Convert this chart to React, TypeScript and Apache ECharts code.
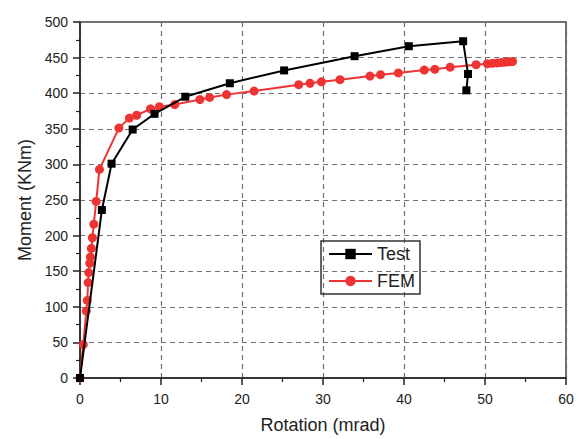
import React, { useEffect, useRef } from "react";
import * as echarts from "echarts";

const testRotation = [0, 2.7, 3.9, 6.5, 9.2, 13.0, 18.5, 25.2, 33.9, 40.6, 47.3, 47.9, 47.7];
const testMoment = [0, 236, 301, 349, 371, 395, 414, 432, 452, 466, 473, 427, 404];

const femRotation = [
  0, 0.4, 0.78, 0.9, 1.0, 1.07, 1.2, 1.28, 1.4, 1.53, 1.7, 2.0, 2.4, 4.8, 6.1, 7.0, 8.7, 9.8,
  11.7, 14.8, 16.0, 18.1, 21.5, 27.0, 28.4, 29.8, 32.1, 35.8, 37.1, 39.3, 42.5, 43.8, 45.7,
  48.9, 50.3, 50.9, 51.5, 52.0, 52.5, 53.0, 53.4,
];
const femMoment = [
  0, 47, 94, 109, 134, 148, 161, 170, 182, 197, 216, 248, 293, 351, 365, 369, 378, 381,
  384, 391, 394, 398, 403, 412, 414, 416, 419, 424, 426, 428.5, 432.5, 433.5, 436.5,
  440, 441.5, 442, 442.5, 443, 443.5, 444, 444.5,
];

const xTicks = { min: 0, max: 60, interval: 10 };
const yTicks = { min: 0, max: 500, interval: 50 };

const FONT = "'Liberation Sans', Arial, sans-serif";

export default function App() {
  const ref = useRef<HTMLDivElement>(null);
  useEffect(() => {
    if (!ref.current) return;
    const chart = echarts.init(ref.current, undefined, { renderer: "svg" });
    const pair = (xs: number[], ys: number[]) => xs.map((x, i) => [x, ys[i]]);
    const gridLine = { show: true, lineStyle: { color: "#707070", width: 1.2, type: [5, 4] as any } };
    chart.setOption({
      animation: false,
      backgroundColor: "#fff",
      textStyle: { fontFamily: FONT },
      grid: {
        left: 80,
        right: 13,
        top: 22,
        bottom: 52,
        show: true,
        borderColor: "#444",
        borderWidth: 1.5,
        backgroundColor: "transparent",
      },
      legend: {
        data: ["Test", "FEM"],
        orient: "vertical",
        left: 321,
        top: 241,
        borderColor: "#333",
        borderWidth: 1.5,
        padding: [4, 5, 4, 7],
        itemWidth: 43,
        itemHeight: 13,
        itemGap: 9,
        textStyle: { fontSize: 18, color: "#222", fontFamily: FONT },
      },
      xAxis: {
        type: "value",
        min: xTicks.min,
        max: xTicks.max,
        interval: xTicks.interval,
        name: "Rotation (mrad)",
        nameLocation: "middle",
        nameGap: 38,
        nameTextStyle: { fontSize: 18, color: "#222", fontFamily: FONT },
        axisLine: { show: true, lineStyle: { color: "#222", width: 1.5 } },
        axisTick: { show: true, length: 7, lineStyle: { color: "#222", width: 1.5 } },
        minorTick: { show: true, splitNumber: 2, length: 4, lineStyle: { color: "#222", width: 1.2 } },
        axisLabel: { fontSize: 14, color: "#222", margin: 14, fontFamily: FONT },
        splitLine: gridLine,
      },
      yAxis: {
        type: "value",
        min: yTicks.min,
        max: yTicks.max,
        interval: yTicks.interval,
        name: "Moment (KNm)",
        nameLocation: "middle",
        nameGap: 45,
        nameTextStyle: { fontSize: 18, color: "#222", fontFamily: FONT },
        axisLine: { show: true, lineStyle: { color: "#222", width: 1.5 } },
        axisTick: { show: true, length: 7, lineStyle: { color: "#222", width: 1.5 } },
        minorTick: { show: true, splitNumber: 2, length: 4, lineStyle: { color: "#222", width: 1.2 } },
        axisLabel: { fontSize: 14, color: "#222", margin: 12, fontFamily: FONT },
        splitLine: gridLine,
      },
      series: [
        {
          name: "Test",
          type: "line",
          z: 4,
          data: pair(testRotation, testMoment),
          symbol: "rect",
          symbolSize: 8,
          itemStyle: { color: "#000" },
          lineStyle: { color: "#000", width: 2 },
        },
        {
          name: "FEM",
          type: "line",
          z: 3,
          data: pair(femRotation, femMoment),
          symbol: "circle",
          symbolSize: 9,
          itemStyle: { color: "#ee3333" },
          lineStyle: { color: "#ee3333", width: 2 },
        },
      ],
    });
    return () => chart.dispose();
  }, []);
  return <div ref={ref} style={{ width: 579, height: 439, position: "absolute", left: 0, top: 0 }} />;
}
